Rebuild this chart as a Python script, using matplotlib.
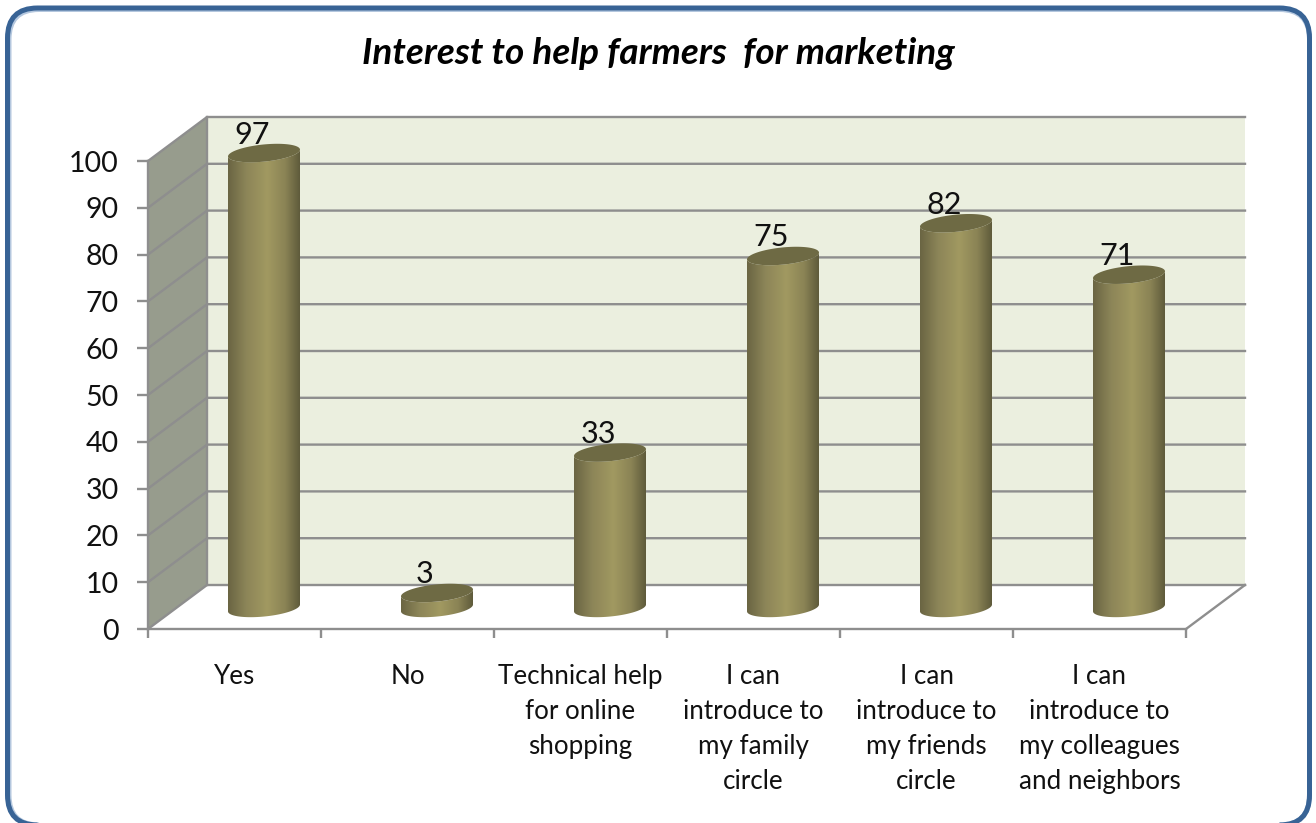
import numpy as np
import matplotlib
matplotlib.use("Agg")
import matplotlib.pyplot as plt
from matplotlib.colors import LinearSegmentedColormap
from matplotlib.patches import FancyBboxPatch, Polygon

categories = [
    "Yes",
    "No",
    "Technical help\nfor online\nshopping",
    "I can\nintroduce to\nmy family\ncircle",
    "I can\nintroduce to\nmy friends\ncircle",
    "I can\nintroduce to\nmy colleagues\nand neighbors",
]
values = [97, 3, 33, 75, 82, 71]
value_ticks = list(range(0, 101, 10))
title = "Interest to help farmers  for marketing"

plt.rcParams["font.family"] = ["Lato", "DejaVu Sans"]

W, H = 1316, 823
fig = plt.figure(figsize=(W / 100, H / 100), dpi=100, facecolor="white")

# Rounded outer border, its lower edge running just off the canvas
frame_ax = fig.add_axes([0, 0, 1, 1], zorder=0)
frame_ax.set_xlim(0, W)
frame_ax.set_ylim(0, H)
frame_ax.axis("off")
for off, col, lw in [(1.5, "#B4C7DE", 3.6), (0, "#386395", 3.6)]:
    frame_ax.add_patch(FancyBboxPatch(
        (7.5 + off, -2), 1302 - off, 817 - off,
        boxstyle="round,pad=0,rounding_size=30",
        fc="none", ec=col, lw=lw))

# Axes covers the front plane of the 3-D box
left, right, bottom, top = 148, 1186, 629, 161
ax = fig.add_axes([left / W, 1 - bottom / H, (right - left) / W, (bottom - top) / H], zorder=1)
ax.patch.set_alpha(0)
ax.set_xlim(0, len(categories))
ax.set_ylim(0, 100)
px_x = (right - left) / len(categories)
px_y = (bottom - top) / 100
depth_x = 59 / px_x
depth_y = 44 / px_y

GRID = "#8E8E8E"
LW = 1.7
n = len(categories)

# Walls
ax.add_patch(Polygon([(0, 0), (depth_x, depth_y), (depth_x, 100 + depth_y), (0, 100)],
                     fc="#979C8D", ec="none", clip_on=False, zorder=1))
ax.add_patch(Polygon([(depth_x, depth_y), (n + depth_x, depth_y),
                      (n + depth_x, 100 + depth_y), (depth_x, 100 + depth_y)],
                     fc="#EBEFDF", ec="none", clip_on=False, zorder=1))

# Gridlines wrap from the side wall onto the back wall
for v in value_ticks:
    ax.plot([0, depth_x, n + depth_x], [v, v + depth_y, v + depth_y],
            color=GRID, lw=LW, clip_on=False, zorder=2, solid_joinstyle="miter")
ax.plot([depth_x, depth_x], [depth_y, 100 + depth_y], color=GRID, lw=LW, clip_on=False, zorder=2)
ax.plot([n, n + depth_x], [0, depth_y], color=GRID, lw=LW, clip_on=False, zorder=2)

# Spines and ticks
for s in ("top", "right"):
    ax.spines[s].set_visible(False)
for s in ("left", "bottom"):
    ax.spines[s].set_color(GRID)
    ax.spines[s].set_linewidth(LW)
    ax.spines[s].set_zorder(2)
ax.set_yticks(value_ticks)
ax.set_xticks(range(n + 1))
ax.set_xticklabels([])
ax.set_xticks(np.arange(n) + 0.5, minor=True)
ax.set_xticklabels(categories, minor=True, fontsize=18.7, linespacing=1.5, color="#111111")
ax.tick_params(axis="y", length=8, width=LW, color=GRID, pad=13, labelsize=20.5, labelcolor="#111111")
ax.tick_params(axis="x", which="major", length=6.5, width=LW, color=GRID)
ax.tick_params(axis="x", which="minor", length=0, pad=25)

# Cylinders
body_cmap = LinearSegmentedColormap.from_list(
    "body", [(0, "#6A6543"), (0.25, "#8C8558"), (0.55, "#A19961"), (0.8, "#8A8355"), (1, "#5F5B3B")])
half_w = 36 / px_x
shear = 3.4 / px_y
semi = 8.6 / px_y
t = np.linspace(0, np.pi, 60)


def rim(cx, cy, angles):
    return cx + half_w * np.cos(angles), cy + shear * np.cos(angles) + semi * np.sin(angles)


for i, v in enumerate(values):
    cx = i + 0.5 + depth_x / 2
    base = depth_y / 2 - 0.2
    level = v + depth_y / 2
    # body outline: lower arc of the base, then back along the lower arc of the top rim
    bx, by = rim(cx, base, -t)
    tx, ty = rim(cx, level, -t)
    outline = np.column_stack([np.r_[bx, tx[::-1]], np.r_[by, ty[::-1]]])
    body = Polygon(outline, closed=True, fc="none", ec="none", transform=ax.transData)
    ax.add_patch(body)
    im = ax.imshow(np.linspace(0, 1, 128)[None, :], cmap=body_cmap, aspect="auto",
                   extent=(cx - half_w, cx + half_w, base - semi * 2, level + semi * 2),
                   zorder=3, interpolation="bilinear")
    im.set_clip_path(body)
    im.set_clip_box(fig.bbox)
    # top rim
    a = np.linspace(0, 2 * np.pi, 120)
    ex, ey = rim(cx, level, a)
    ax.add_patch(Polygon(np.column_stack([ex, ey]), fc="#6E6A44", ec="none", clip_on=False, zorder=4))
    ax.text(cx - 12 / px_x, level + 18.5 / px_y, str(v), ha="center", va="center",
            fontsize=22, color="#111111", zorder=5, clip_on=False)

ax.set_xlim(0, n)
ax.set_ylim(0, 100)

fig.text(658 / W, 1 - 53.5 / H, title, ha="center", va="center",
         fontsize=26.6, fontweight="bold", fontstyle="italic", color="black")

fig.savefig("out.png", dpi=100, facecolor="white")
